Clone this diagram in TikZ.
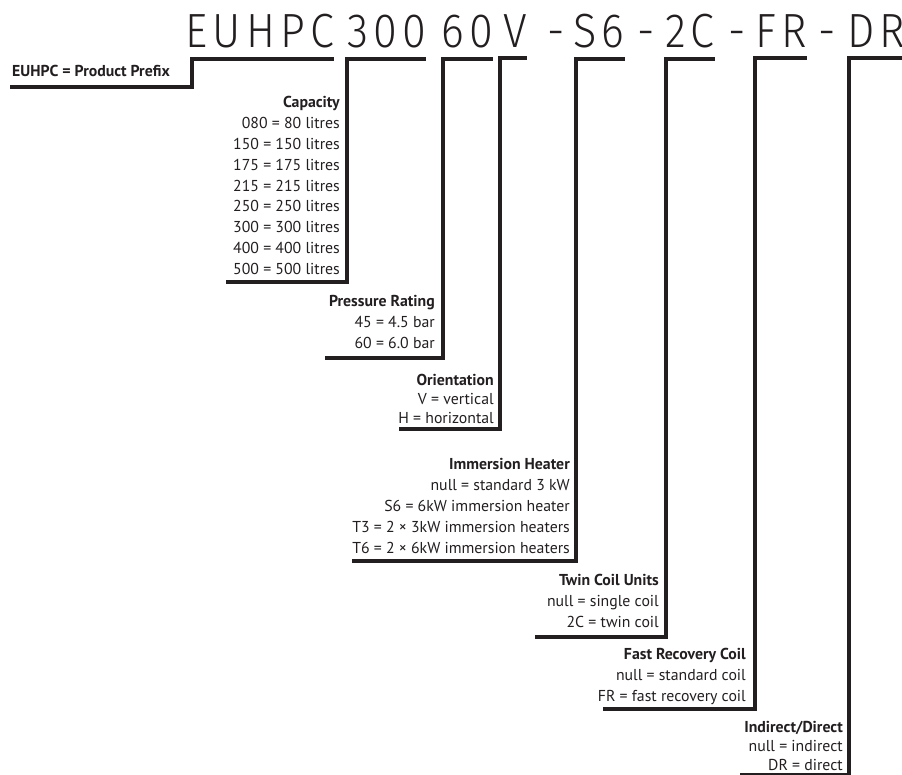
\documentclass[tikz,border=0pt]{standalone}
\usepackage{fontspec}
\setmainfont{PT Sans}
\IfFontExistsTF{Fira Sans Light}
  {\newfontfamily\codefont{Fira Sans Light}[LetterSpace=11, FakeStretch=0.9]}
  {\newfontfamily\codefont{Fira Sans}[LetterSpace=11, FakeStretch=0.9]}
\usepackage{xcolor}
\definecolor{ink}{HTML}{231F20}

\begin{document}
\begin{tikzpicture}[x=1pt, y=-1pt,
    code/.style={inner xsep=0pt, inner ysep=10pt, anchor=base west, text=ink,
        font=\codefont\fontsize{48}{48}\selectfont},
    legend/.style={align=right, inner sep=0pt, anchor=north east, text=ink,
        font=\fontsize{15.8}{20.8}\selectfont},
    tight/.style={font=\fontsize{15.8}{19}\selectfont},
    bar/.style={draw=ink, line width=4pt}]
    \useasboundingbox (0,0) rectangle (902,775);

    % model code
    \node[code] (tPre) at (185,48) {EUHPC};
    \node[code] (tCap) at (347,48) {300};
    \node[code] (tPres) at (441,48) {60};
    \node[code] (tOri) at (503,48) {V};
    \node[code] (d1) at (547,48) {-};
    \node[code] (tHeat) at (573,48) {S6};
    \node[code] (d2) at (637,48) {-};
    \node[code] (tCoil) at (665,48) {2C};
    \node[code] (d3) at (728,48) {-};
    \node[code] (tFast) at (755,48) {FR};
    \node[code] (d4) at (818,48) {-};
    \node[code] (tDir) at (847,48) {DR};

    % legend blocks
    \node[anchor=base west, inner sep=0pt, text=ink, font=\fontsize{15.8}{20}\selectfont\bfseries]
        (prefix) at (12,77) {EUHPC = Product Prefix};
    \node[legend] (capacity) at (340,96.5) {\textbf{Capacity}\\080 = 80 litres\\150 = 150 litres\\175 = 175 litres\\215 = 215 litres\\250 = 250 litres\\300 = 300 litres\\400 = 400 litres\\500 = 500 litres};
    \node[legend] (pressure) at (435,295.5) {\textbf{Pressure Rating}\\45 = 4.5 bar\\60 = 6.0 bar};
    \node[legend, tight] (orient) at (494,374) {\textbf{Orientation}\\V = vertical\\H = horizontal};
    \node[legend] (heater) at (570,458.5) {\textbf{Immersion Heater}\\null = standard 3 kW\\S6 = 6kW immersion heater\\T3 = 2 × 3kW immersion heaters\\T6 = 2 × 6kW immersion heaters};
    \node[legend] (coil) at (659,574) {\textbf{Twin Coil Units}\\null = single coil\\2C = twin coil};
    \node[legend] (fast) at (746,648) {\textbf{Fast Recovery Coil}\\null = standard coil\\FR = fast recovery coil};
    \node[legend, tight] (direct) at (843,721) {\textbf{Indirect/Direct}\\null = indirect\\DR = direct};

    % feet of the brackets
    \coordinate (preFoot) at (10,87);
    \coordinate (capFoot) at (226,282);
    \coordinate (presFoot) at (325,358);
    \coordinate (oriFoot) at (399,429);
    \coordinate (heatFoot) at (352,561);
    \coordinate (coilFoot) at (535,636.5);
    \coordinate (fastFoot) at (603,709);
    \coordinate (dirFoot) at (849,775);
    \coordinate (dirLine) at (740,774);

    \draw[bar] (preFoot) -| ([xshift=7pt]tPre.south west) -- (tPre.south east);
    \draw[bar] (capFoot) -| (tCap.south west) -- (tCap.south east);
    \draw[bar] (presFoot) -| ([xshift=2pt]tPres.south west) -- (tPres.south east);
    \draw[bar] (oriFoot) -| ([xshift=-3pt]tOri.south west) -- (tOri.south east);
    \draw[bar] (heatFoot) -| ([xshift=3pt]tHeat.south west) -- (tHeat.south east);
    \draw[bar] (coilFoot) -| ([xshift=1pt]tCoil.south west) -- (tCoil.south east);
    \draw[bar] (fastFoot) -| (tFast.south west) -- (tFast.south east);
    \draw[bar] (dirFoot) |- (tDir.south east);
    \draw[draw=ink, line width=1.2pt] (dirLine) -- (dirLine -| dirFoot);
\end{tikzpicture}
\end{document}
